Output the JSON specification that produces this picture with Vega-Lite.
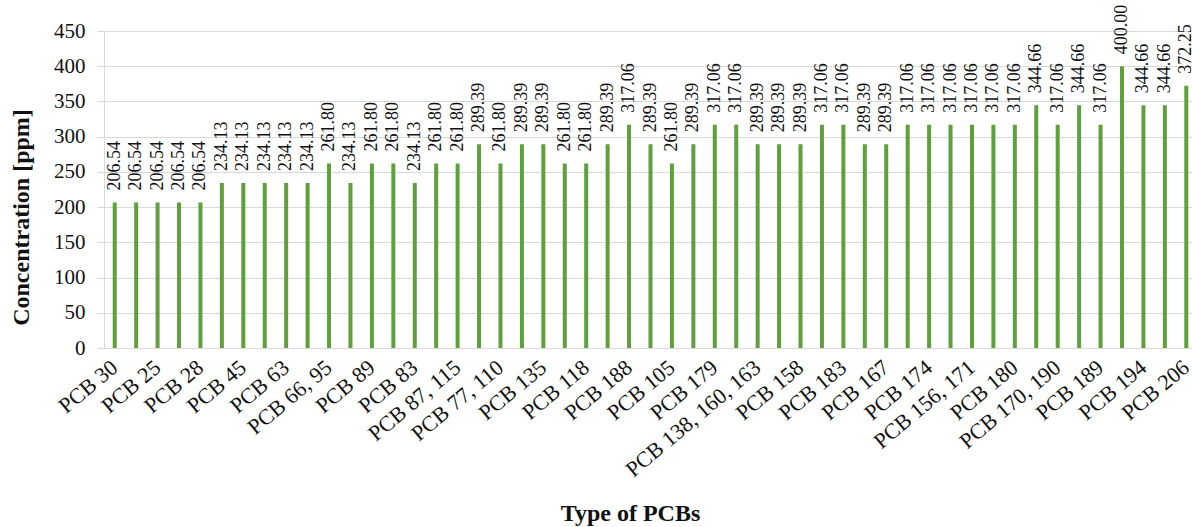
{
  "$schema": "https://vega.github.io/schema/vega-lite/v6.json",
  "autosize": "none",
  "padding": {"left": 104, "top": 31, "right": 0, "bottom": 179},
  "width": 1093,
  "height": 317,
  "background": "white",
  "data": {
    "values": [
      {"pcb": "PCB 30", "ppm": 206.54},
      {"pcb": "(unlabelled bar 2)", "ppm": 206.54},
      {"pcb": "PCB 25", "ppm": 206.54},
      {"pcb": "(unlabelled bar 4)", "ppm": 206.54},
      {"pcb": "PCB 28", "ppm": 206.54},
      {"pcb": "(unlabelled bar 6)", "ppm": 234.13},
      {"pcb": "PCB 45", "ppm": 234.13},
      {"pcb": "(unlabelled bar 8)", "ppm": 234.13},
      {"pcb": "PCB 63", "ppm": 234.13},
      {"pcb": "(unlabelled bar 10)", "ppm": 234.13},
      {"pcb": "PCB 66, 95", "ppm": 261.80},
      {"pcb": "(unlabelled bar 12)", "ppm": 234.13},
      {"pcb": "PCB 89", "ppm": 261.80},
      {"pcb": "(unlabelled bar 14)", "ppm": 261.80},
      {"pcb": "PCB 83", "ppm": 234.13},
      {"pcb": "(unlabelled bar 16)", "ppm": 261.80},
      {"pcb": "PCB 87, 115", "ppm": 261.80},
      {"pcb": "(unlabelled bar 18)", "ppm": 289.39},
      {"pcb": "PCB 77, 110", "ppm": 261.80},
      {"pcb": "(unlabelled bar 20)", "ppm": 289.39},
      {"pcb": "PCB 135", "ppm": 289.39},
      {"pcb": "(unlabelled bar 22)", "ppm": 261.80},
      {"pcb": "PCB 118", "ppm": 261.80},
      {"pcb": "(unlabelled bar 24)", "ppm": 289.39},
      {"pcb": "PCB 188", "ppm": 317.06},
      {"pcb": "(unlabelled bar 26)", "ppm": 289.39},
      {"pcb": "PCB 105", "ppm": 261.80},
      {"pcb": "(unlabelled bar 28)", "ppm": 289.39},
      {"pcb": "PCB 179", "ppm": 317.06},
      {"pcb": "(unlabelled bar 30)", "ppm": 317.06},
      {"pcb": "PCB 138, 160, 163", "ppm": 289.39},
      {"pcb": "(unlabelled bar 32)", "ppm": 289.39},
      {"pcb": "PCB 158", "ppm": 289.39},
      {"pcb": "(unlabelled bar 34)", "ppm": 317.06},
      {"pcb": "PCB 183", "ppm": 317.06},
      {"pcb": "(unlabelled bar 36)", "ppm": 289.39},
      {"pcb": "PCB 167", "ppm": 289.39},
      {"pcb": "(unlabelled bar 38)", "ppm": 317.06},
      {"pcb": "PCB 174", "ppm": 317.06},
      {"pcb": "(unlabelled bar 40)", "ppm": 317.06},
      {"pcb": "PCB 156, 171", "ppm": 317.06},
      {"pcb": "(unlabelled bar 42)", "ppm": 317.06},
      {"pcb": "PCB 180", "ppm": 317.06},
      {"pcb": "(unlabelled bar 44)", "ppm": 344.66},
      {"pcb": "PCB 170, 190", "ppm": 317.06},
      {"pcb": "(unlabelled bar 46)", "ppm": 344.66},
      {"pcb": "PCB 189", "ppm": 317.06},
      {"pcb": "(unlabelled bar 48)", "ppm": 400.00},
      {"pcb": "PCB 194", "ppm": 344.66},
      {"pcb": "(unlabelled bar 50)", "ppm": 344.66},
      {"pcb": "PCB 206", "ppm": 372.25}
    ]
  },
  "encoding": {
    "x": {
      "field": "pcb",
      "type": "nominal",
      "sort": null,
      "scale": {"paddingInner": 0, "paddingOuter": 0},
      "axis": {
        "title": "Type of PCBs",
        "labelExpr": "test(/^PCB/, datum.value) ? datum.label : ''",
        "labelAngle": -40,
        "labelAlign": "right",
        "labelBaseline": "middle",
        "labelPadding": 16,
        "labelFontSize": 22,
        "labelOverlap": false,
        "labelLimit": 300,
        "ticks": false,
        "domainColor": "#d9d9d9",
        "titleX": 526,
        "titleY": 172,
        "titleBaseline": "alphabetic"
      }
    },
    "y": {
      "field": "ppm",
      "type": "quantitative",
      "scale": {"domain": [0, 450]},
      "axis": {
        "title": "Concentration [ppm]",
        "values": [0, 50, 100, 150, 200, 250, 300, 350, 400, 450],
        "labelFontSize": 21,
        "labelPadding": 12,
        "tickSize": 7,
        "tickColor": "#d9d9d9",
        "domainColor": "#d9d9d9",
        "gridColor": "#d9d9d9",
        "titleX": -71,
        "titleY": 186
      }
    }
  },
  "layer": [
    {"mark": {"type": "bar", "width": 4, "color": "#5fa03c"}},
    {
      "mark": {
        "type": "text",
        "angle": -90,
        "align": "left",
        "baseline": "middle",
        "dx": 12,
        "font": "Liberation Serif",
        "fontSize": 18,
        "color": "#111"
      },
      "encoding": {"text": {"field": "ppm", "type": "quantitative", "format": ".2f"}}
    }
  ],
  "config": {
    "view": {"stroke": null},
    "font": "Liberation Serif",
    "axis": {
      "labelFont": "Liberation Serif",
      "labelColor": "#111",
      "titleFont": "Liberation Serif",
      "titleFontSize": 24,
      "titleFontWeight": "bold",
      "titleColor": "#111"
    },
    "axisX": {"grid": false}
  }
}
